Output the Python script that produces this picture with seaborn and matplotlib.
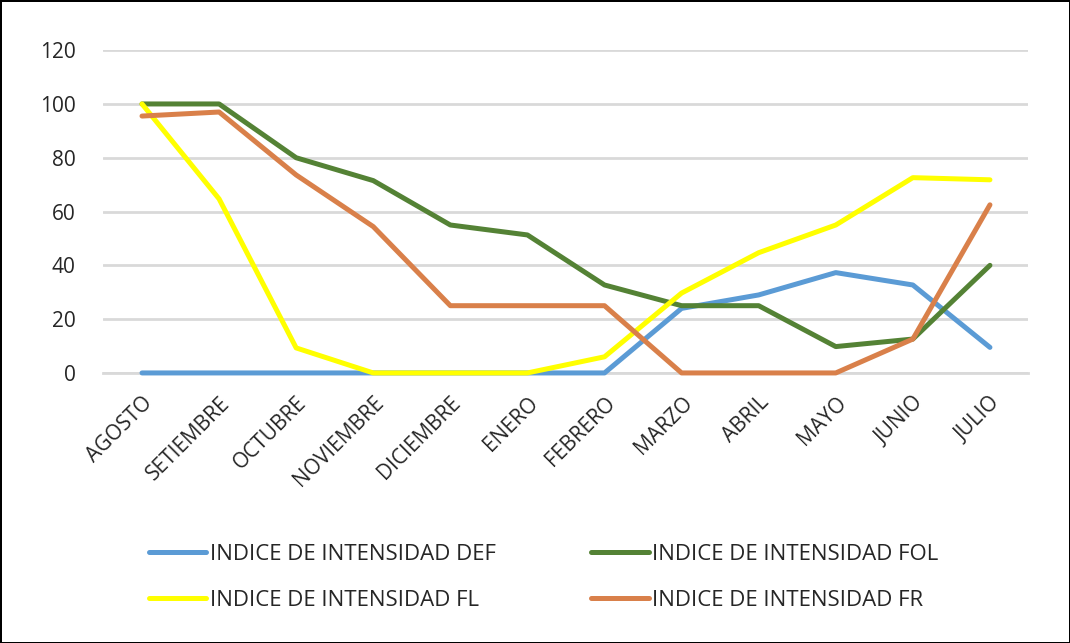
import numpy as np
import pandas as pd
import matplotlib
matplotlib.use("Agg")
import matplotlib.pyplot as plt
import seaborn as sns
from matplotlib import font_manager

# ---- datos ----
meses = ["AGOSTO", "SETIEMBRE", "OCTUBRE", "NOVIEMBRE", "DICIEMBRE", "ENERO",
         "FEBRERO", "MARZO", "ABRIL", "MAYO", "JUNIO", "JULIO"]
idx_def = [0, 0, 0, 0, 0, 0, 0, 24, 29, 37.3, 32.7, 9.5]
idx_fol = [100, 100, 80, 71.5, 55, 51.3, 32.7, 25, 25, 9.8, 12.6, 40]
idx_fl = [100, 64.7, 9.3, 0, 0, 0, 6, 29.7, 44.7, 55, 72.6, 71.8]
idx_fr = [95.5, 97, 73.6, 54.4, 25, 25, 25, 0, 0, 0, 12.6, 62.5]

series = ["INDICE DE INTENSIDAD DEF", "INDICE DE INTENSIDAD FOL",
          "INDICE DE INTENSIDAD FL", "INDICE DE INTENSIDAD FR"]
colores = ["#5B9BD5", "#548235", "#FFFF00", "#D9804A"]

df = pd.DataFrame({"mes": meses * 4,
                   "valor": idx_def + idx_fol + idx_fl + idx_fr,
                   "serie": np.repeat(series, len(meses))})
df["pos"] = df["mes"].map({m: i for i, m in enumerate(meses)})

sns.set_style("white")
installed = {f.name for f in font_manager.fontManager.ttflist}
fam = [f for f in ["Liberation Sans Narrow", "Open Sans", "DejaVu Sans"] if f in installed]
plt.rcParams["font.family"] = fam

fig = plt.figure(figsize=(10.7, 6.43), dpi=100)
ax = fig.add_axes([0.0967, 0.42, 0.8645, 0.502])

sns.lineplot(data=df, x="pos", y="valor", hue="serie", hue_order=series,
             palette=colores, linewidth=3.6, ax=ax, legend=False, sort=False)
for ln in ax.get_lines():
    ln.set_clip_on(False)
    ln.set_zorder(3)
    ln.set_solid_capstyle("round")
    ln.set_solid_joinstyle("round")

ax.set_xlim(-0.5, len(meses) - 0.5)
ax.set_ylim(0, 120)
ax.set_yticks(range(0, 121, 20))
ax.set_xticks(range(len(meses)))
ax.set_xticklabels(meses, rotation=45, ha="right", rotation_mode="anchor", fontsize=15)
ax.tick_params(axis="y", labelsize=15, length=0, pad=20, colors="#262626")
ax.tick_params(axis="x", length=0, pad=14, colors="#262626")
ax.yaxis.grid(True, color="#D9D9D9", linewidth=2)
ax.set_axisbelow(True)
for s in ["top", "right", "left"]:
    ax.spines[s].set_visible(False)
ax.spines["bottom"].set_color("#D9D9D9")
ax.spines["bottom"].set_linewidth(2)
ax.set_xlabel("")
ax.set_ylabel("")

# leyenda: orden por filas como Excel
handles = [plt.Line2D([], [], color=c, linewidth=3.6, solid_capstyle="round") for c in colores]
orden = [0, 2, 1, 3]
fig.legend([handles[i] for i in orden], [series[i] for i in orden],
           loc="center", bbox_to_anchor=(0.508, 0.102), ncol=2, frameon=False,
           fontsize=16, handlelength=2.6, handletextpad=0.15,
           columnspacing=4.3, labelspacing=1.15, labelcolor="#262626")

fig.patch.set_edgecolor("black")
fig.patch.set_linewidth(2)
fig.savefig("out.png", dpi=100, edgecolor=fig.get_edgecolor())
